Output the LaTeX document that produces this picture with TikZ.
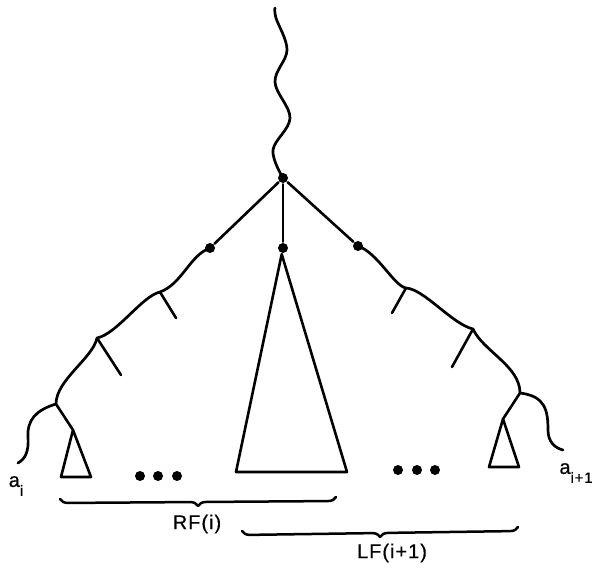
\documentclass[tikz,border=0pt]{standalone}
\usepackage{fontspec}
\setmainfont{Liberation Sans}[LetterSpace=5,FakeBold=0.5]
\usetikzlibrary{decorations.pathreplacing}
\begin{document}
\begin{tikzpicture}[x=1pt,y=-1pt, line width=2.6pt, line cap=round, line join=round,
  dotnode/.style={circle, fill, inner sep=0pt, minimum size=10pt},
  elldot/.style={circle, fill, inner sep=0pt, minimum size=10pt},
  wave/.style={line width=2.7pt},
  lbl/.style={font=\fontsize{20}{22}\selectfont, inner sep=0pt},
  brc/.style={decorate, decoration={brace, mirror, amplitude=8pt}, line width=2.5pt}]
\useasboundingbox (0,0) rectangle (595,568);

% main nodes
\coordinate (top) at (275,8);
\node[dotnode] (root) at (283,178) {};
\node[dotnode] (L) at (210,248) {};
\node[dotnode] (M) at (283,248) {};
\node[dotnode] (R) at (358,246) {};

% left chain
\coordinate (n1) at (160,292);
\coordinate (n2) at (97,338);
\coordinate (n3) at (56,404);
\coordinate (tl) at (18,463);
\coordinate (s1) at (176,318);
\coordinate (s2) at (121,375);
\coordinate (ta) at (73,430);
\coordinate (tab) at (61,477);
\coordinate (tac) at (91,477);

% right chain
\coordinate (r1) at (406,288);
\coordinate (r2) at (473,329);
\coordinate (r3) at (520,393);
\coordinate (tr) at (563,450);
\coordinate (u1) at (392,313);
\coordinate (u2) at (452,367);
\coordinate (tb) at (503,419);
\coordinate (tbb) at (489,467);
\coordinate (tbc) at (519,467);

% middle triangle
\coordinate (mb) at (236,472);
\coordinate (mc) at (347,472);

% top wavy line
\draw[wave] plot[smooth, tension=0.6] coordinates {(top) (276,18) (287,50) (275,82) (290,118) (273,150) (root)};

% straight edges from root
\draw (root) -- (L);
\draw (root) -- (M);
\draw (root) -- (R);

% left wavy chain
\draw[wave] (L.center) .. controls (190,255) and (182,284) .. (n1)
  .. controls (142,296) and (117,334) .. (n2)
  .. controls (93,358) and (56,380) .. (n3)
  .. controls (36,410) and (27,420) .. (28,437)
  .. controls (29,452) and (25,459) .. (tl);
\draw (n1) -- (s1);
\draw (n2) -- (s2);
\draw (n3) -- (ta);
\draw (ta) -- (tab) -- (tac) -- cycle;

% right wavy chain
\draw[wave] (R.center) .. controls (378,253) and (394,286) .. (r1)
  .. controls (424,289) and (452,324) .. (r2)
  .. controls (483,351) and (520,366) .. (r3)
  .. controls (545,396) and (548,410) .. (548,430)
  .. controls (548,442) and (555,448) .. (tr);
\draw (r1) -- (u1);
\draw (r2) -- (u2);
\draw (r3) -- (tb);
\draw (tb) -- (tbb) -- (tbc) -- cycle;

% middle triangle
\draw (M) -- (mb) -- (mc) -- cycle;

% ellipsis dots
\node[elldot] (d1) at (140,476) {};
\node[elldot] (d2) at (158,476) {};
\node[elldot] (d3) at (177,476) {};
\node[elldot] (e1) at (398,470) {};
\node[elldot] (e2) at (417,470) {};
\node[elldot] (e3) at (435,470) {};

% braces
\coordinate (b1s) at (60,499);
\coordinate (b1e) at (336,497);
\coordinate (b2s) at (242,531);
\coordinate (b2e) at (518,527);
\draw[brc] (b1s) -- (b1e);
\draw[brc] (b2s) -- (b2e);

% labels
\node[lbl] (ai) at (16,486) {a\raisebox{-0.45em}{\fontsize{15}{16}\selectfont i}};
\node[lbl] (ai1) at (576,473) {a\raisebox{-0.45em}{\fontsize{15}{16}\selectfont i+1}};
\node[lbl] (rf) at (197,524) {RF(i)};
\node[lbl] (lf) at (392,553) {LF(i+1)};
\end{tikzpicture}
\end{document}
